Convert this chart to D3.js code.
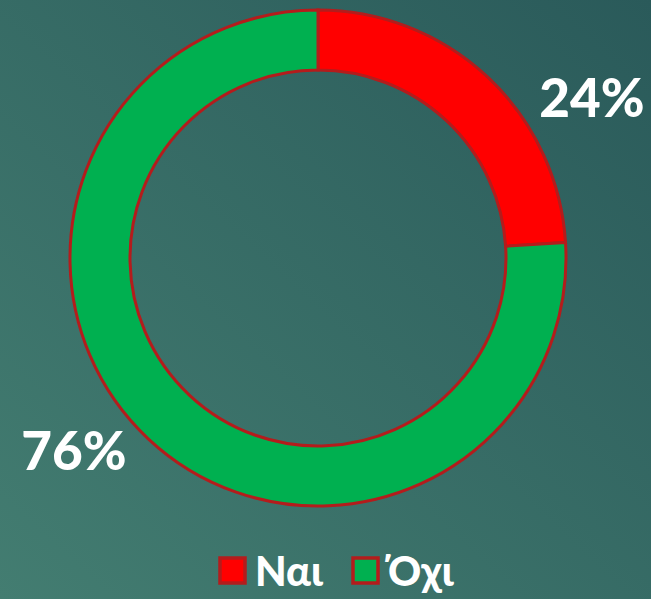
<!DOCTYPE html>
<html><head><meta charset="utf-8">
<script src="https://cdn.jsdelivr.net/npm/d3@7"></script>
<style>html,body{margin:0;padding:0;overflow:hidden;}</style>
</head><body>
<script>
const categories = ["Ναι", "Όχι"];
const values = [24, 76];
const labels = ["24%", "76%"];
const colors = ["#ff0000", "#00b050"];

const W = 651, H = 599;
const svg = d3.select("body").append("svg").attr("width", W).attr("height", H);
const defs = svg.append("defs");
const g = defs.append("linearGradient").attr("id","bg").attr("x1","1").attr("y1","0").attr("x2","0").attr("y2","1");
g.append("stop").attr("offset","0").attr("stop-color","#2a5a5a");
g.append("stop").attr("offset","1").attr("stop-color","#437d71");
svg.append("rect").attr("width",W).attr("height",H).attr("fill","url(#bg)");

const cx = 318, cy = 258, rOut = 248, rIn = 188;
const pie = d3.pie().sort(null).value(d => d);
const arc = d3.arc().innerRadius(rIn).outerRadius(rOut);
const arcs = pie(values);
const chart = svg.append("g").attr("transform", `translate(${cx},${cy})`);
chart.selectAll("path").data(arcs).join("path")
  .attr("d", arc)
  .attr("fill", (d,i) => colors[i])
  .attr("stroke", "#b41c1c")
  .attr("stroke-width", 3);

const font = "Lato, 'DejaVu Sans', sans-serif";
const labelPos = [[592, 117], [74, 470]];
svg.selectAll("text.lbl").data(labels).join("text")
  .attr("class","lbl")
  .attr("x",(d,i)=>labelPos[i][0]).attr("y",(d,i)=>labelPos[i][1])
  .attr("text-anchor","middle")
  .attr("font-family", font).attr("font-weight",900).attr("font-size",53)
  .attr("fill","#ffffff").text(d=>d);

// legend
const legendX = [220, 353];
const leg = svg.selectAll("g.leg").data(categories).join("g").attr("class","leg")
  .attr("transform",(d,i)=>`translate(${legendX[i]},558)`);
leg.append("rect").attr("x",0).attr("y",0).attr("width",25).attr("height",25)
  .attr("fill",(d,i)=>colors[i]).attr("stroke","#b41c1c").attr("stroke-width",3.5);
leg.append("text").attr("x",35).attr("y",28)
  .attr("font-family", font).attr("font-weight",900).attr("font-size",41)
  .attr("fill","#ffffff").text(d=>d);
</script>
</body></html>
